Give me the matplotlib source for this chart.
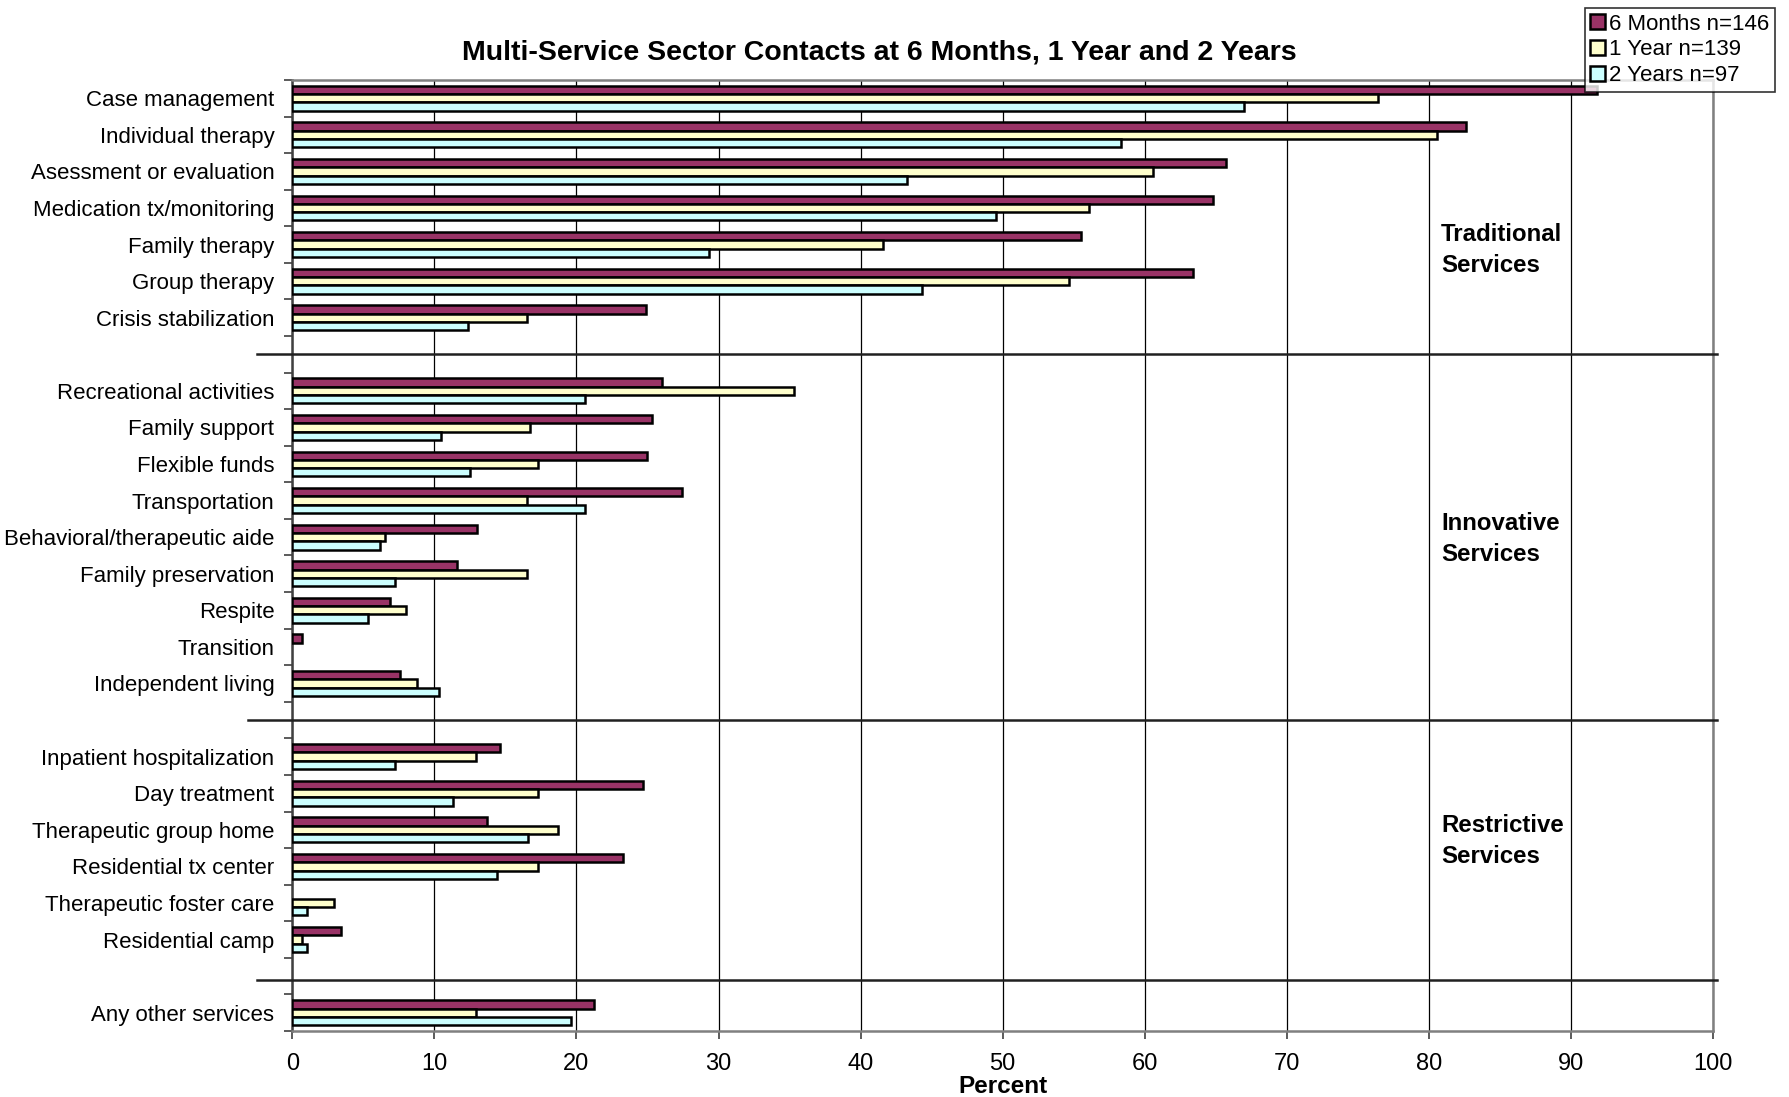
import numpy as np
import matplotlib.pyplot as plt

plt.rcParams['font.family'] = ['Liberation Sans', 'DejaVu Sans']

# categories per sector
traditional = ['Case management', 'Individual therapy', 'Asessment or evaluation',
               'Medication tx/monitoring', 'Family therapy', 'Group therapy',
               'Crisis stabilization']
innovative = ['Recreational activities', 'Family support', 'Flexible funds',
              'Transportation', 'Behavioral/therapeutic aide', 'Family preservation',
              'Respite', 'Transition', 'Independent living']
restrictive = ['Inpatient hospitalization', 'Day treatment', 'Therapeutic group home',
               'Residential tx center', 'Therapeutic foster care', 'Residential camp']
other = ['Any other services']

# percent values, 6 months / 1 year / 2 years
m6_trad = [91.8, 82.6, 65.7, 64.8, 55.5, 63.4, 24.9]
y1_trad = [76.4, 80.6, 60.6, 56.1, 41.6, 54.7, 16.5]
y2_trad = [67.0, 58.3, 43.3, 49.5, 29.3, 44.3, 12.4]

m6_innov = [26.0, 25.3, 25.0, 27.4, 13.0, 11.6, 6.9, 0.7, 7.6]
y1_innov = [35.3, 16.7, 17.3, 16.5, 6.5, 16.5, 8.0, 0.0, 8.8]
y2_innov = [20.6, 10.5, 12.5, 20.6, 6.2, 7.2, 5.3, 0.0, 10.3]

m6_restr = [14.6, 24.7, 13.7, 23.3, 0.0, 3.45]
y1_restr = [12.95, 17.3, 18.7, 17.3, 2.95, 0.7]
y2_restr = [7.2, 11.3, 16.6, 14.4, 1.0, 1.0]

m6_other = [21.2]
y1_other = [12.95]
y2_other = [19.65]

series_names = ['6 Months n=146', '1 Year n=139', '2 Years n=97']
colors = ['#993366', '#FFFFCC', '#CCFFFF']
group_titles = ['Traditional\nServices', 'Innovative\nServices', 'Restrictive\nServices']

gap = ['']
labels = traditional + gap + innovative + gap + restrictive + gap + other
nan = [np.nan]
m6 = np.array(m6_trad + nan + m6_innov + nan + m6_restr + nan + m6_other)
y1 = np.array(y1_trad + nan + y1_innov + nan + y1_restr + nan + y1_other)
y2 = np.array(y2_trad + nan + y2_innov + nan + y2_restr + nan + y2_other)

pos = np.arange(len(labels))
bh = 0.227

fig = plt.figure(figsize=(17.9, 10.97), dpi=100)
ax = fig.add_axes([0.1633, 0.0602, 0.7937, 0.8669])

for k, vals in enumerate([m6, y1, y2]):
    ok = ~np.isnan(vals)
    v = vals[ok]
    lw = np.where(v > 0, 1.8, 0.0)
    ax.barh(pos[ok] + (k - 1) * bh, v, height=bh, color=colors[k],
            edgecolor='black', linewidth=lw, label=series_names[k], zorder=3)

ax.set_xlim(0, 100)
ax.set_ylim(len(labels) - 0.5, -0.5)
ax.set_xticks(np.arange(0, 101, 10))
ax.xaxis.grid(True, color='black', linewidth=0.9, zorder=0)
ax.set_axisbelow(True)

ax.set_yticks(pos)
ax.set_yticklabels(labels, fontsize=16)
ax.set_yticks(np.arange(-0.5, len(labels), 1.0), minor=True)
ax.tick_params(axis='y', which='major', length=0, pad=13)
ax.tick_params(axis='y', which='minor', length=6, width=1.2, color='#404040')
ax.tick_params(axis='x', labelsize=17, length=6, width=1.2, color='#404040', pad=10)

for s in ['top', 'right', 'bottom']:
    ax.spines[s].set_color('#808080')
    ax.spines[s].set_linewidth(1.8)
ax.spines['left'].set_color('#404040')
ax.spines['left'].set_linewidth(1.8)

# separators between sectors
gap_rows = [i for i, l in enumerate(labels) if l == '']
starts = [-2.5, -3.1, -2.5]
shifts = [0.0, 0.0, 0.1]
for r, x0, sh in zip(gap_rows, starts, shifts):
    ax.plot([x0, 100.3], [r + sh, r + sh], color='#202020', linewidth=1.8,
            clip_on=False, zorder=4)

for t, yy in zip(group_titles, [4.15, 12.05, 20.3]):
    ax.text(80.85, yy, t, fontsize=17.3, fontweight='bold', va='center', ha='left',
            linespacing=1.42)

ax.set_xlabel('Percent', fontsize=17.5, fontweight='bold', labelpad=0)
fig.text(0.4915, 1 - 53 / 1097, 'Multi-Service Sector Contacts at 6 Months, 1 Year and 2 Years',
         fontsize=20.5, fontweight='bold', ha='center', va='center')

leg = ax.legend(loc='upper right', bbox_to_anchor=(1775 / 1790, 1 - 8 / 1097),
                bbox_transform=fig.transFigure, fontsize=16, frameon=True,
                fancybox=False, borderaxespad=0, borderpad=0.25, labelspacing=0.22,
                handlelength=0.65, handleheight=0.65, handletextpad=0.2)
leg.get_frame().set_edgecolor('black')
leg.get_frame().set_linewidth(1.2)
for h in leg.legend_handles:
    h.set_linewidth(1.8)

fig.savefig('out.png', dpi=100)
